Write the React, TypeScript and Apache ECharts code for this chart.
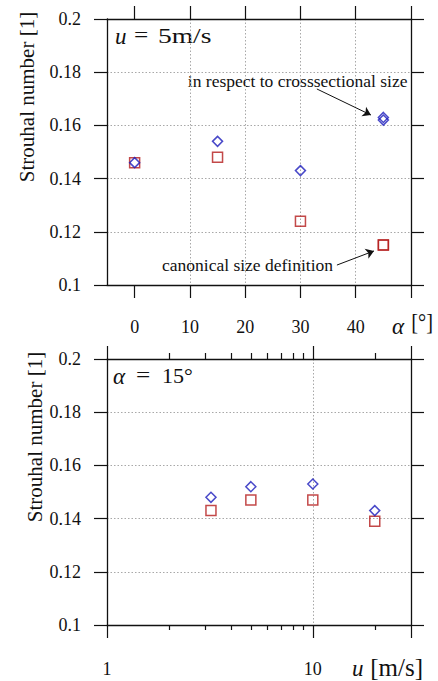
import React, { useEffect, useRef } from "react";
import * as echarts from "echarts";

// Strouhal number versus angle of attack (u = 5 m/s)
const angleCross = [0, 15, 30, 45, 45];
const stCrossByAngle = [0.146, 0.154, 0.143, 0.163, 0.162];
const angleCanon = [0, 15, 30, 45, 45];
const stCanonByAngle = [0.146, 0.148, 0.124, 0.115, 0.115];

// Strouhal number versus flow speed (alpha = 15 deg)
const speed = [3.2, 5, 10, 20];
const stCrossBySpeed = [0.148, 0.152, 0.153, 0.143];
const stCanonBySpeed = [0.143, 0.147, 0.147, 0.139];

// Tick positions
const angleTicks = [0, 10, 20, 30, 40, 50];
const angleLabels = [0, 10, 20, 30, 40];
const speedMajorTicks = [1, 10, 30];
const speedLabels = [1, 10];
const speedMinorTicks = [2, 3, 4, 5, 6, 7, 8, 9, 20];

const BLUE = "#1c1cbc";
const RED = "#b41c1c";
const FONT = "'Liberation Serif', serif";
const FRAME = { show: true, onZero: false, lineStyle: { color: "#111", width: 1.3 } };
const GRID_LINE = { show: true, showMinLine: false, showMaxLine: false, lineStyle: { color: "#a8a8a8", width: 1, type: [1.5, 2] as any } };

const zip = (xs: number[], ys: number[]) => xs.map((x, i) => [x, ys[i]]);

export default function App() {
  const ref = useRef<HTMLDivElement>(null);
  useEffect(() => {
    if (!ref.current) return;
    const chart = echarts.init(ref.current, null, { renderer: "svg" });

    const yAxis = (gridIndex: number, position: "left" | "right") => ({
      type: "value",
      gridIndex,
      position,
      min: 0.1,
      max: 0.2,
      interval: 0.02,
      axisLine: FRAME,
      axisTick: { show: true, inside: false, length: 13, lineStyle: { color: "#111", width: 1.2 } },
      axisLabel: position === "left"
        ? { show: true, margin: 26, fontFamily: FONT, fontSize: 18, color: "#111" }
        : { show: false },
      splitLine: position === "left" ? GRID_LINE : { show: false },
    });

    const angleAxis = (position: "top" | "bottom") => ({
      type: "value",
      gridIndex: 0,
      position,
      min: -5,
      max: 50,
      axisLine: FRAME,
      axisTick: { show: true, inside: false, length: 13, customValues: angleTicks, lineStyle: { color: "#111", width: 1.2 } },
      axisLabel: position === "bottom"
        ? { show: true, customValues: angleLabels, margin: 33, fontFamily: FONT, fontSize: 18, color: "#111" }
        : { show: false },
      splitLine: position === "bottom" ? GRID_LINE : { show: false },
    });

    const speedAxis = (position: "top" | "bottom", major: boolean) => ({
      type: "log",
      logBase: 10,
      gridIndex: 1,
      position,
      min: 1,
      max: 30,
      axisLine: major ? FRAME : { show: false, onZero: false },
      axisTick: {
        show: true,
        inside: false,
        length: major ? 13 : position === "top" ? 6 : 5,
        customValues: major ? speedMajorTicks : speedMinorTicks,
        lineStyle: { color: "#111", width: 1.2 },
      },
      axisLabel: major && position === "bottom"
        ? { show: true, customValues: speedLabels, margin: 35, fontFamily: FONT, fontSize: 18, color: "#111" }
        : { show: false },
      splitLine: major && position === "bottom" ? GRID_LINE : { show: false },
    });

    const hollow = (color: string) => ({ color: "rgba(0,0,0,0)", borderColor: color, borderWidth: 1.5 });

    const arrowLine = {
      silent: true,
      symbol: ["none", "arrow"],
      symbolSize: 8,
      label: { show: false },
      lineStyle: { color: "#111", width: 1, type: "solid" },
      emphasis: { disabled: true },
      data: [
        [{ coord: [32.97, 0.1737] }, { coord: [42.75, 0.1639] }],
        [{ coord: [36.6, 0.1075] }, { coord: [43.3, 0.1128] }],
      ],
    };

    const text = (x: number, y: number, t: string, size: number, align: string, extra: any = {}, scaleX = 1) => ({
      type: "text",
      x,
      y,
      scaleX,
      silent: true,
      style: { text: t, fontFamily: FONT, fontSize: size, fill: "#111", align, verticalAlign: "middle", ...extra },
    });

    chart.setOption({
      animation: false,
      backgroundColor: "#fff",
      grid: [
        { left: 107, top: 19, width: 304, height: 266 },
        { left: 107, top: 359, width: 304, height: 266 },
      ],
      xAxis: [
        angleAxis("bottom"),
        angleAxis("top"),
        speedAxis("bottom", true),
        speedAxis("bottom", false),
        speedAxis("top", true),
        speedAxis("top", false),
      ],
      yAxis: [yAxis(0, "left"), yAxis(0, "right"), yAxis(1, "left"), yAxis(1, "right")],
      series: [
        {
          type: "scatter",
          xAxisIndex: 0,
          yAxisIndex: 0,
          symbol: "rect",
          symbolSize: 10,
          itemStyle: hollow(RED),
          data: zip(angleCanon, stCanonByAngle),
          markLine: arrowLine,
        },
        {
          type: "scatter",
          xAxisIndex: 0,
          yAxisIndex: 0,
          symbol: "diamond",
          symbolSize: 10,
          itemStyle: hollow(BLUE),
          data: zip(angleCross, stCrossByAngle),
        },
        {
          type: "scatter",
          xAxisIndex: 2,
          yAxisIndex: 2,
          symbol: "rect",
          symbolSize: 10,
          itemStyle: hollow(RED),
          data: zip(speed, stCanonBySpeed),
        },
        {
          type: "scatter",
          xAxisIndex: 2,
          yAxisIndex: 2,
          symbol: "diamond",
          symbolSize: 10,
          itemStyle: hollow(BLUE),
          data: zip(speed, stCrossBySpeed),
        },
      ],
      graphic: [
        { ...text(27, 97, "Strouhal number [1]", 21, "center"), rotation: Math.PI / 2 },
        { ...text(35, 437, "Strouhal number [1]", 21, "center"), rotation: Math.PI / 2 },
        text(115, 36, "u", 23, "left", { fontStyle: "italic" }),
        text(134, 35, "=", 22, "left", {}, 1.15),
        text(158, 35, "5m/s", 22, "left", {}, 1.25),
        text(113, 376, "α", 23, "left", { fontStyle: "italic" }),
        text(136, 375, "=", 22, "left", {}, 1.15),
        text(162, 375, "15°", 22, "left"),
        text(407.5, 81, "in respect to crosssectional size", 17.5, "right"),
        text(162, 265, "canonical size definition", 17.5, "left"),
        text(392, 326, "α", 23, "left", { fontStyle: "italic" }),
        text(433, 322, "[°]", 24, "right", {}, 0.85),
        text(352, 668, "u", 23, "left", { fontStyle: "italic" }),
        text(423, 667, "[m/s]", 25, "right"),
      ],
    });

    return () => chart.dispose();
  }, []);

  return <div ref={ref} style={{ position: "absolute", left: 0, top: 0, width: 438, height: 681 }} />;
}
